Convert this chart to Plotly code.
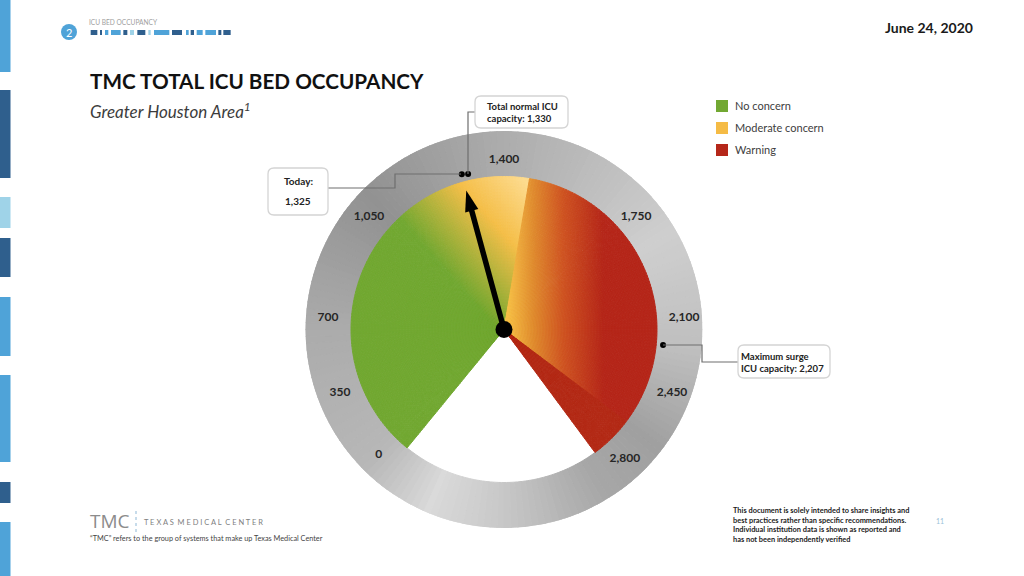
#! /usr/bin/env python3

import numpy as np
import plotly.graph_objects as go

# gauge data
tick_labels = ['0', '350', '700', '1,050', '1,400', '1,750', '2,100', '2,450', '2,800']
today_beds = 1325
normal_capacity = 1330
surge_capacity = 2207
gradient_end_yellow = 1520   # where the yellow part stops and the orange starts
gradient_end_red = 2610      # where the orange fade stops, solid red after this
scale_max = 2800
legend_names = ['No concern', 'Moderate concern', 'Warning']

# dial as drawn on the slide, it is not linear so read the angles off the picture
scale_vals = [0, today_beds, normal_capacity, gradient_end_yellow, surge_capacity, gradient_end_red, scale_max]
scale_deg = [-140.7, -15.2, -13, 9.6, 95.6, 127, 143.5]
tick_deg = [-135, -111.2, -86.3, -50.2, 0, 49.6, 86.3, 110.7, 137]
tick_r = [177, 175.9, 176.4, 175.7, 169.5, 173.4, 180.4, 179.6, 177.2]

GREEN = '#72a832'
YELLOW = '#f5bb45'
RED = '#b5271a'
FONT = 'Lato'
FACE_R = 153
RING_R = 198.5


def to_deg(v):
    return float(np.interp(v, scale_vals, scale_deg))


def hex_rgb(c):
    return np.array([int(c[i:i + 2], 16) for i in (1, 3, 5)], dtype=float)


def ramp(t, stops, colors):
    rgb = [np.interp(t, stops, [hex_rgb(c)[i] for c in colors]) for i in range(3)]
    return 'rgb(%d,%d,%d)' % tuple(rgb)


# colour of the dial face at an angle / radius
def face_color(deg, r):
    x = r * np.sin(np.radians(deg))
    y = r * np.cos(np.radians(deg))
    if deg < to_deg(gradient_end_yellow):
        t = (x + 13) * 0.75 + (y - 8) * 0.66
        return ramp(t, [0, 68, 118], [GREEN, '#f5bf4a', '#fddb8e'])
    if deg < to_deg(gradient_end_red):
        return ramp(x, [5, 30, 60, 100], ['#f6bf48', '#e08c30', '#cf5423', RED])
    return '#b32a16'


# dial face, small polar cells so the colour can fade
step = 1.2
r_step = 3
edges = [to_deg(0), to_deg(gradient_end_yellow), to_deg(gradient_end_red), to_deg(scale_max)]
cell_deg, cell_width = [], []
for a, b in zip(edges[:-1], edges[1:]):
    n = int(round((b - a) / step))
    w = (b - a) / n
    cell_deg += [a + (i + 0.5) * w for i in range(n)]
    cell_width += [w] * n

face_t, face_w, face_r, face_c = [], [], [], []
for d, w in zip(cell_deg, cell_width):
    for base in np.arange(0, FACE_R, r_step):
        face_t.append(d)
        face_w.append(w)
        face_r.append(base)
        face_c.append(face_color(d, base + r_step / 2))

# grey outer ring
ring_deg = np.arange(-180, 180, 2.0) + 1
ring_stops = [-180, -157, -135, -90, -45, 0, 20, 60, 95, 127, 150, 180]
ring_cols = ['#c8c8c8', '#dadada', '#b8b8b8', '#acacac', '#929292', '#adadad',
             '#b8b8b8', '#cfcfcf', '#c0c0c0', '#a0a0a0', '#a8a8a8', '#c8c8c8']
ring_c = [ramp(d, ring_stops, ring_cols) for d in ring_deg]

fig = go.Figure()
fig.add_trace(go.Barpolar(
    theta=ring_deg, r=[RING_R - FACE_R] * len(ring_deg), base=FACE_R, width=2.0,
    marker=dict(color=ring_c, line=dict(color=ring_c, width=1)),
    hoverinfo='skip', showlegend=False,
))
fig.add_trace(go.Barpolar(
    theta=face_t, r=[r_step] * len(face_t), base=face_r, width=face_w,
    marker=dict(color=face_c, line=dict(color=face_c, width=1)),
    hoverinfo='skip', showlegend=False,
))
# tick labels
fig.add_trace(go.Scatterpolar(
    theta=tick_deg, r=tick_r, mode='text', text=tick_labels,
    textfont=dict(family=FONT, size=12, color='#262626', weight='bold'),
    hoverinfo='skip', showlegend=False,
))
# needle
fig.add_trace(go.Scatterpolar(
    theta=[to_deg(today_beds)] * 2, r=[0, 128], mode='lines',
    line=dict(color='black', width=5.5), hoverinfo='skip', showlegend=False,
))
fig.add_trace(go.Scatterpolar(
    theta=[to_deg(today_beds)], r=[144], mode='markers',
    marker=dict(symbol='arrow', size=22, color='black', angle=to_deg(today_beds)),
    hoverinfo='skip', showlegend=False,
))
fig.add_trace(go.Scatterpolar(
    theta=[0], r=[0], mode='markers',
    marker=dict(size=17, color='black'), hoverinfo='skip', showlegend=False,
))
# capacity dots
fig.add_trace(go.Scatterpolar(
    theta=[to_deg(today_beds), to_deg(normal_capacity), to_deg(surge_capacity)],
    r=[161, 159.6, 159.8], mode='markers',
    marker=dict(size=6, color='black'), hoverinfo='skip', showlegend=False,
))

fig.update_layout(
    width=1024, height=576,
    paper_bgcolor='white', plot_bgcolor='white',
    margin=dict(l=0, r=0, t=0, b=0),
    showlegend=False,
    font=dict(family=FONT, color='#333333'),
    xaxis=dict(range=[0, 1024], domain=[0, 1], visible=False, fixedrange=True),
    yaxis=dict(range=[576, 0], domain=[0, 1], visible=False, fixedrange=True),
    polar=dict(
        domain=dict(x=[305.5 / 1024, 702.5 / 1024], y=[(576 - 528) / 576, (576 - 131) / 576]),
        bgcolor='rgba(0,0,0,0)',
        bargap=0,
        barmode='overlay',
        radialaxis=dict(visible=False, range=[0, RING_R]),
        angularaxis=dict(visible=False, direction='clockwise', rotation=90),
    ),
)


def rect(x0, y0, x1, y1, color):
    fig.add_shape(type='rect', x0=x0, y0=y0, x1=x1, y1=y1, xref='x', yref='y',
                  fillcolor=color, line_width=0, layer='above')


def leader(points):
    path = 'M' + ' L'.join('%s,%s' % p for p in points)
    fig.add_shape(type='path', path=path, xref='x', yref='y',
                  line=dict(color='#6e6e6e', width=1.2), layer='above')


def callout(x0, y0, x1, y1):
    c = 6
    path = (f'M{x0 + c},{y0} L{x1 - c},{y0} Q{x1},{y0} {x1},{y0 + c} L{x1},{y1 - c} Q{x1},{y1} {x1 - c},{y1} '
            f'L{x0 + c},{y1} Q{x0},{y1} {x0},{y1 - c} L{x0},{y0 + c} Q{x0},{y0} {x0 + c},{y0} Z')
    fig.add_shape(type='path', path=path, xref='x', yref='y', fillcolor='white',
                  line=dict(color='#d4d4d4', width=1.3), layer='above')


def label(x, y, text, size, color='#333333', anchor='left', weight=None, family=FONT):
    fig.add_annotation(x=x, y=y, xref='x', yref='y', text=text, showarrow=False, xanchor=anchor,
                       yanchor='middle', align=anchor, borderpad=0, borderwidth=0,
                       font=dict(family=family, size=size, color=color, weight=weight))


# slide side strip
BLUE = '#4fa3d8'
DARK = '#2f5f8d'
PALE = '#9fd3e8'
side_strip = [(0, 72, BLUE), (90, 178, DARK), (197, 228, PALE), (238, 277, DARK), (297, 356, BLUE),
              (375, 462, BLUE), (482, 503, DARK), (522, 576, BLUE)]
for y0, y1, c in side_strip:
    rect(0, y0, 10.5, y1, c)

# header strip
header_strip = [(272, 292, DARK), (300, 306, DARK), (315, 325, BLUE), (333, 362, BLUE), (370, 382, DARK),
                (390, 402, PALE), (412, 436, DARK), (445, 452, PALE), (462, 508, BLUE), (516, 546, DARK),
                (558, 566, BLUE), (572, 582, DARK), (590, 608, BLUE), (616, 648, BLUE), (655, 664, DARK),
                (670, 692, DARK)]
for x0, x1, c in header_strip:
    rect(x0 / 3, 30, x1 / 3, 35, c)
fig.add_shape(type='circle', x0=61, y0=24, x1=77, y1=40, xref='x', yref='y',
              fillcolor=BLUE, line_width=0, layer='above')
label(69, 32, '2', 11, color='white', anchor='center')
label(89, 22, 'ICU BED OCCUPANCY', 6.6, color='#a0a0a0')

# titles
label(90, 81, 'TMC TOTAL ICU BED OCCUPANCY', 20.7, color='#111111', weight='bold')
label(90, 110, '<i>Greater Houston Area<sup>1</sup></i>', 17, color='#3c3c3c')
label(973, 27, 'June 24, 2020', 14, color='#1a1a1a', anchor='right', weight='bold')

# legend
legend_cols = [GREEN, YELLOW, RED]
for i, (name, c) in enumerate(zip(legend_names, legend_cols)):
    rect(716, 100 + 22 * i, 728, 112 + 22 * i, c)
    label(735, 105 + 22 * i, name, 11, color='#404040')

# callouts
leader([(461, 174), (395, 174), (395, 188), (328, 188)])
leader([(468, 174), (468, 112), (475, 112)])
leader([(663, 345), (702, 345), (702, 362), (738, 362)])
callout(268, 168, 328, 215)
callout(475, 96, 568, 128)
callout(738, 345, 830, 378)
label(298, 181, 'Today:', 10, color='#222222', anchor='center', weight='bold')
label(298, 201, '1,325', 10, color='#222222', anchor='center', weight='bold')
label(487, 112, 'Total normal ICU<br>capacity: 1,330', 9.5, color='#222222', weight='bold')
label(741, 362, 'Maximum surge<br>ICU capacity: 2,207', 9.5, color='#222222', weight='bold')

# footer
label(90, 521, 'TMC', 19, color='#8c8c8c', family='Open Sans')
fig.add_shape(type='line', x0=136, y0=511, x1=136, y1=533, xref='x', yref='y',
              line=dict(color='#8fb8d6', width=1, dash='dot'), layer='above')
label(144, 522, 'T E X A S  M E D I C A L  C E N T E R', 7.5, color='#808080')
label(90, 538, '“TMC” refers to the group of systems that make up Texas Medical Center', 7.3, color='#444444')
label(733, 525, 'This document is solely intended to share insights and<br>best practices rather than specific recommendations.<br>'
      'Individual institution data is shown as reported and<br>has not been independently verified', 7.4, color='#222222', weight='bold')
label(940, 521, '11', 7, color='#9dbfd8', anchor='center')

# the page body keeps its default 8px margin otherwise
fig.write_html('out.html', config={'displayModeBar': False},
               post_script="document.body.style.margin='0';")
